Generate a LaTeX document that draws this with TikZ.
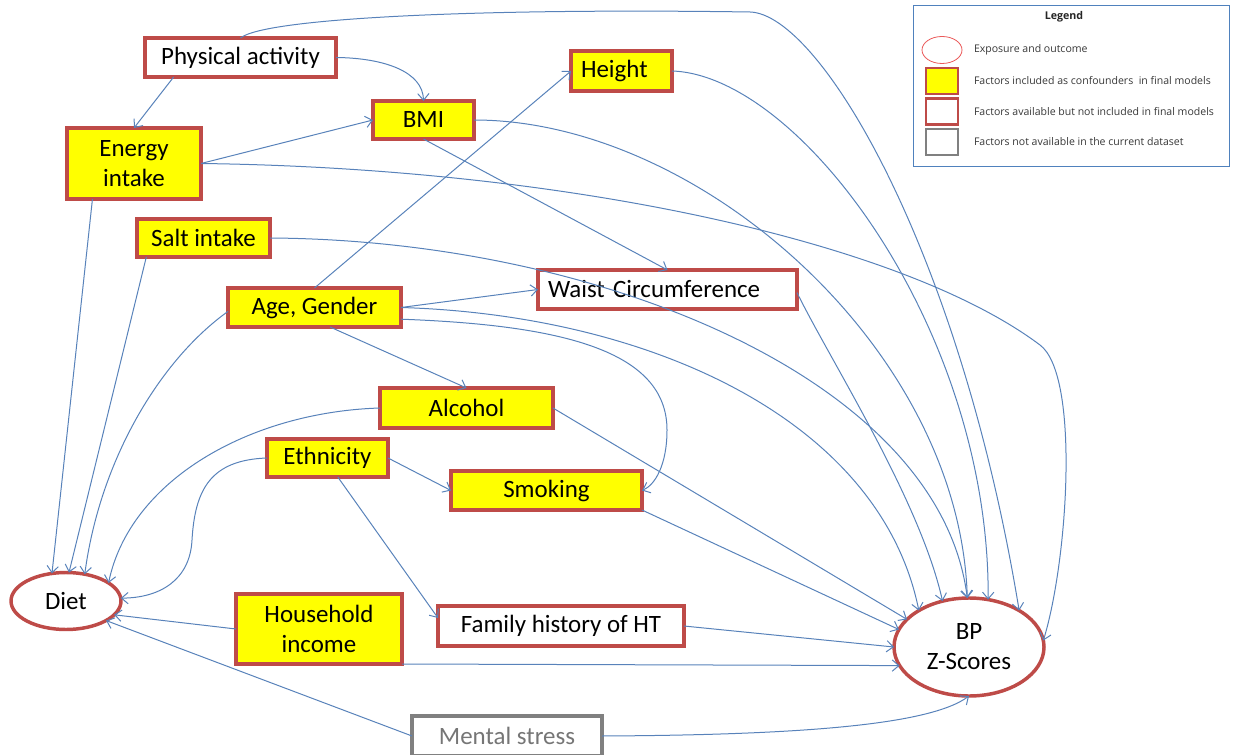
\documentclass[tikz,border=0pt]{standalone}
\usepackage{fontspec}
\setmainfont{Carlito}
\newfontfamily\legfont{Open Sans}
\usetikzlibrary{arrows.meta,calc,shapes.geometric}
\definecolor{boxred}{RGB}{190,75,72}
\definecolor{edgeblue}{RGB}{88,130,186}
\definecolor{yel}{RGB}{255,255,0}
\definecolor{msgray}{RGB}{128,128,128}
\definecolor{msgraytext}{RGB}{118,118,118}
\definecolor{legblue}{RGB}{79,129,189}
\definecolor{legred}{RGB}{235,90,90}
\begin{document}
\begin{tikzpicture}[x=0.75pt,y=-0.75pt,
  every node/.style={font=\fontsize{18.7}{22.5}\selectfont, inner sep=0pt, outer sep=0pt},
  sz/.style 2 args={minimum width=#1*0.75pt, minimum height=#2*0.75pt},
  ybox/.style={rectangle, draw=boxred, line width=2.6pt, fill=yel, align=center},
  wbox/.style={rectangle, draw=boxred, line width=2.6pt, fill=white, align=center},
  gbox/.style={rectangle, draw=msgray, line width=2.6pt, fill=white, text=msgraytext},
  oval/.style={ellipse, draw=boxred, line width=2.6pt, fill=white, align=center},
  conn/.style={draw=edgeblue, line width=0.75pt, -{Straight Barb[length=5pt,width=8.5pt]}},
  legtext/.style={font=\legfont\fontsize{7.9}{10}\selectfont, text=black!78, anchor=west},
]
\useasboundingbox (0,0) rectangle (1241,755);

% nodes
\node[wbox, sz={191}{39}] (pa) at (240.5,57.5) {Physical activity};
\node[ybox, sz={134}{71}] (ei) at (134,163.5) {Energy\\intake};
\node[ybox, sz={101}{38}] (bmi) at (423.5,120) {BMI};
\node[ybox, sz={101}{40}, text width=81*0.75pt, align=left, inner xsep=10*0.75pt] (ht) at (621.5,71) {Height};
\node[ybox, sz={133}{38}] (salt) at (203.5,238) {Salt intake};
\node[ybox, sz={173}{39}] (age) at (314.5,307.5) {Age, Gender};
\node[wbox, sz={259}{39}, text width=239*0.75pt, align=left, inner xsep=10*0.75pt] (wc) at (667.5,289.5) {Waist Circumference};
\node[ybox, sz={173}{40}] (alc) at (466.5,408) {Alcohol};
\node[ybox, sz={121}{38}] (eth) at (327.5,458) {Ethnicity};
\node[ybox, sz={191}{39}] (smk) at (546.5,490.5) {Smoking};
\node[ybox, sz={166}{70}] (hi) at (319,629) {Household\\income};
\node[wbox, sz={246}{40}] (fh) at (561,626) {Family history of HT};
\node[gbox, sz={190}{40}] (ms) at (507,736) {Mental stress};
\node[oval, sz={110}{57}] (diet) at (66,601) {Diet};
\node[oval, sz={150}{98}] (bp) at (969,647) {BP\\Z-Scores};

% legend
\node[draw=legblue, line width=1pt, fill=white, sz={316}{161}] (leg) at (1071.5,86) {};
\node[font=\legfont\bfseries\fontsize{8}{10}\selectfont, text=black!85] (legt) at (1064,17) {Legend};
\node[ellipse, draw=legred, line width=0.6pt, sz={40}{27}] (lgo) at (942,50) {};
\node[rectangle, draw=boxred, line width=1.6pt, fill=yel, sz={32}{26}] (lgy) at (942,81) {};
\node[rectangle, draw=boxred, line width=1.6pt, fill=white, sz={32}{26}] (lgw) at (942,111.5) {};
\node[rectangle, draw=msgray, line width=1.6pt, fill=white, sz={32}{26}] (lgg) at (942,142) {};
\node[legtext] (lt1) at (974,50) {Exposure and outcome};
\node[legtext] (lt2) at (974,81) {Factors included as confounders\ \ in final models};
\node[legtext] (lt3) at (974,111.5) {Factors available but not included in final models};
\node[legtext] (lt4) at (974,142) {Factors not available in the current dataset};

% connectors
\draw[conn] ($(pa.south west)!0.15!(pa.south east)$) -- (ei.north);
\draw[conn] (pa.east) .. controls (385,58) and (423,72) .. (bmi.north);
\draw[conn] (pa.north) .. controls (265,18) and (480,8) .. (750,12) .. controls (820,14) and (960,250) .. (bp.36);
\draw[conn] (ei.east) -- (bmi.west);
\draw[conn] ($(ei.south west)!0.19!(ei.south east)$) -- (diet.117);
\draw[conn] (ei.east) .. controls (560,168) and (900,240) .. (1040,345) .. controls (1080,375) and (1068,560) .. (bp.5);
\draw[conn] (bmi.south) -- (wc.north);
\draw[conn] (bmi.east) .. controls (700,120) and (960,350) .. (bp.92);
\draw[conn] (ht.east) .. controls (800,75) and (990,330) .. (bp.68);
\draw[conn] (salt.east) .. controls (600,240) and (940,380) .. (bp.92);
\draw[conn] (age.east) .. controls (650,315) and (880,420) .. (bp.144);
\draw[conn] (age.east) -- (wc.west);
\draw[conn] ($(age.north east)!0.8!(age.south east)$) .. controls (560,325) and (667,350) .. (667,430) .. controls (667,465) and (655,485) .. (smk.east);
\draw[conn] ($(age.south west)!0.59!(age.south east)$) -- (alc.north);
\draw[conn] (age.north) -- (ht.west);
\draw[conn] ($(age.north west)!0.6!(age.south west)$) .. controls (160,360) and (100,460) .. (diet.55);
\draw[conn] ($(salt.south west)!0.07!(salt.south east)$) -- (diet.84);
\draw[conn] (alc.west) .. controls (250,412) and (130,480) .. (diet.23);
\draw[conn] (eth.west) .. controls (210,460) and (195,490) .. (192,540) .. controls (190,580) and (160,598) .. (diet.3);
\draw[conn] (eth.east) -- (smk.west);
\draw[conn] ($(eth.south west)!0.585!(eth.south east)$) -- ($(fh.north west)!0.3!(fh.south west)$);
\draw[conn] (alc.east) -- (bp.156);
\draw[conn] (smk.south east) -- (bp.166);
\draw[conn] ($(wc.north east)!0.58!(wc.south east)$) .. controls (830,360) and (920,500) .. (bp.120);
\draw[conn] (fh.east) -- (bp.180);
\draw[conn] (hi.south east) -- (bp.195);
\draw[conn] (hi.west) -- (diet.-16);
\draw[conn] (ms.west) -- (diet.-26);
\draw[conn] (ms.east) .. controls (800,735) and (930,725) .. (bp.270);
\end{tikzpicture}
\end{document}
